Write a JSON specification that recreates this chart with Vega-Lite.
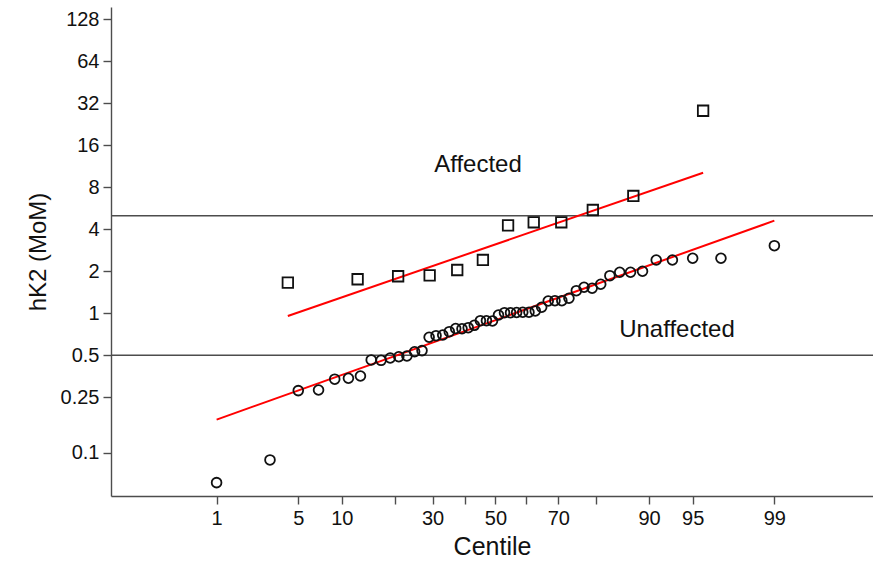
{
  "$schema": "https://vega.github.io/schema/vega-lite/v6.json",
  "width": 762,
  "height": 489,
  "autosize": {"type": "none"},
  "padding": {"left": 111, "top": 7, "right": 0, "bottom": 70},
  "background": "white",
  "config": {
    "view": {"stroke": null},
    "font": "Liberation Sans",
    "axis": {"grid": false, "domainColor": "#4d4d4d", "tickColor": "#4d4d4d", "domainWidth": 1.4, "tickWidth": 1.4, "tickSize": 8, "labelColor": "#111111", "titleColor": "#111111", "labelFont": "Liberation Sans", "titleFont": "Liberation Sans", "titleFontWeight": "normal"}
  },
  "datasets": {
    "refs": [{"hk2": 5}, {"hk2": 0.5}],
    "fits": [
      {"group": "Affected", "z": -1.732, "hk2": 0.956},
      {"group": "Affected", "z": 1.732, "hk2": 10.18},
      {"group": "Unaffected", "z": -2.326, "hk2": 0.173},
      {"group": "Unaffected", "z": 2.326, "hk2": 4.61}
    ],
    "affected": [
      {"z": -1.732, "hk2": 1.657},
      {"z": -1.150, "hk2": 1.753},
      {"z": -0.812, "hk2": 1.842},
      {"z": -0.549, "hk2": 1.872},
      {"z": -0.319, "hk2": 2.043},
      {"z": -0.105, "hk2": 2.41},
      {"z": 0.105, "hk2": 4.27},
      {"z": 0.319, "hk2": 4.49},
      {"z": 0.549, "hk2": 4.49},
      {"z": 0.812, "hk2": 5.50},
      {"z": 1.150, "hk2": 6.93},
      {"z": 1.732, "hk2": 28.3}
    ],
    "unaffected": [
      {"z": -2.3263, "hk2": 0.0611},
      {"z": -1.8808, "hk2": 0.0889},
      {"z": -1.6449, "hk2": 0.279},
      {"z": -1.4758, "hk2": 0.282},
      {"z": -1.3408, "hk2": 0.337},
      {"z": -1.2265, "hk2": 0.342},
      {"z": -1.1264, "hk2": 0.355},
      {"z": -1.0364, "hk2": 0.463},
      {"z": -0.9542, "hk2": 0.460},
      {"z": -0.8779, "hk2": 0.478},
      {"z": -0.8064, "hk2": 0.488},
      {"z": -0.7388, "hk2": 0.494},
      {"z": -0.6745, "hk2": 0.530},
      {"z": -0.6128, "hk2": 0.540},
      {"z": -0.5534, "hk2": 0.673},
      {"z": -0.4959, "hk2": 0.691},
      {"z": -0.4399, "hk2": 0.699},
      {"z": -0.3853, "hk2": 0.738},
      {"z": -0.3319, "hk2": 0.778},
      {"z": -0.2793, "hk2": 0.775},
      {"z": -0.2275, "hk2": 0.788},
      {"z": -0.1764, "hk2": 0.820},
      {"z": -0.1257, "hk2": 0.885},
      {"z": -0.0753, "hk2": 0.885},
      {"z": -0.0251, "hk2": 0.881},
      {"z": 0.0251, "hk2": 0.972},
      {"z": 0.0753, "hk2": 1.010},
      {"z": 0.1257, "hk2": 1.010},
      {"z": 0.1764, "hk2": 1.013},
      {"z": 0.2275, "hk2": 1.017},
      {"z": 0.2793, "hk2": 1.017},
      {"z": 0.3319, "hk2": 1.039},
      {"z": 0.3853, "hk2": 1.104},
      {"z": 0.4399, "hk2": 1.225},
      {"z": 0.4959, "hk2": 1.231},
      {"z": 0.5534, "hk2": 1.231},
      {"z": 0.6128, "hk2": 1.281},
      {"z": 0.6745, "hk2": 1.452},
      {"z": 0.7388, "hk2": 1.536},
      {"z": 0.8064, "hk2": 1.511},
      {"z": 0.8779, "hk2": 1.614},
      {"z": 0.9542, "hk2": 1.860},
      {"z": 1.0364, "hk2": 1.967},
      {"z": 1.1264, "hk2": 1.967},
      {"z": 1.2265, "hk2": 2.0},
      {"z": 1.3408, "hk2": 2.410},
      {"z": 1.4758, "hk2": 2.410},
      {"z": 1.6449, "hk2": 2.479},
      {"z": 1.8808, "hk2": 2.479},
      {"z": 2.3263, "hk2": 3.052}
    ],
    "labels": [
      {"z": -0.146, "hk2": 11.5, "text": "Affected"},
      {"z": 1.514, "hk2": 0.76, "text": "Unaffected"}
    ]
  },
  "encoding": {
    "x": {
      "field": "z", "type": "quantitative",
      "scale": {"domain": [-3.207, 3.149], "nice": false, "zero": false},
      "axis": {
        "title": "Centile", "titleFontSize": 25, "titlePadding": 6, "labelFontSize": 20, "labelPadding": 4,
        "values": [-2.3263, -1.6449, -1.2816, -0.8416, -0.5244, -0.2533, 0, 0.2533, 0.5244, 0.8416, 1.2816, 1.6449, 2.3263],
        "labelExpr": "indexof([1,5,10,30,50,70,90,95,99], round(cumulativeNormal(datum.value)*100)) >= 0 ? '' + round(cumulativeNormal(datum.value)*100) : ''"
      }
    },
    "y": {
      "field": "hk2", "type": "quantitative",
      "scale": {"type": "log", "base": 2, "domain": [0.049, 156.8], "nice": false},
      "axis": {
        "title": "hK2 (MoM)", "titleFontSize": 24, "titlePadding": 10, "labelFontSize": 20, "labelPadding": 4,
        "values": [0.1, 0.25, 0.5, 1, 2, 4, 8, 16, 32, 64, 128],
        "format": "~g"
      }
    }
  },
  "layer": [
    {
      "data": {"name": "refs"},
      "mark": {"type": "rule", "color": "#4d4d4d", "strokeWidth": 1.6},
      "encoding": {"x": null}
    },
    {
      "data": {"name": "fits"},
      "mark": {"type": "line", "color": "#ff0000", "strokeWidth": 2},
      "encoding": {"detail": {"field": "group"}}
    },
    {
      "data": {"name": "unaffected"},
      "mark": {"type": "point", "shape": "circle", "filled": false, "stroke": "#111111", "strokeWidth": 1.8, "size": 95, "opacity": 1}
    },
    {
      "data": {"name": "affected"},
      "mark": {"type": "point", "shape": "square", "filled": false, "stroke": "#111111", "strokeWidth": 1.8, "size": 110, "opacity": 1}
    },
    {
      "data": {"name": "labels"},
      "mark": {"type": "text", "fontSize": 24, "color": "#111111", "align": "center", "baseline": "middle"},
      "encoding": {"text": {"field": "text"}}
    }
  ]
}
